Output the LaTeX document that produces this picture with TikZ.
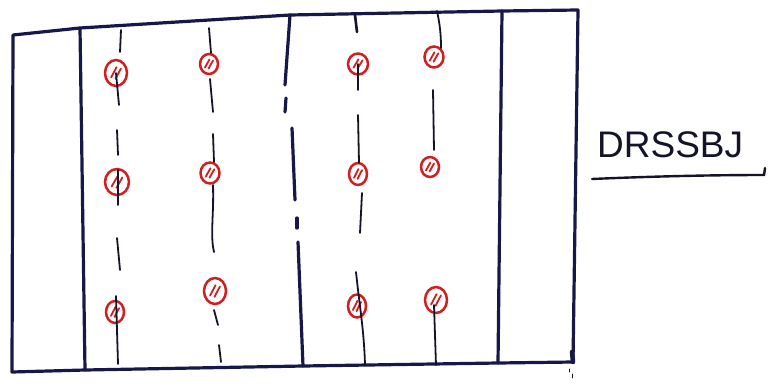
\documentclass[tikz,border=0pt]{standalone}
\usepackage{fontspec}
\setmainfont{Liberation Sans}
\definecolor{ink}{HTML}{17174A}
\definecolor{pen}{HTML}{141428}
\definecolor{redpen}{HTML}{D01F1F}
\begin{document}
\begin{tikzpicture}[x=1pt,y=-1pt,
  frame/.style={draw=ink,line width=3.2pt,line join=round,line cap=round},
  thin/.style={draw=pen,line width=1.8pt,line cap=round},
  holeline/.style={draw=redpen,line width=2.5pt},
  hatch/.style={draw=redpen,line width=1.8pt,line cap=round}]
\useasboundingbox (0,0) rectangle (778,383);
\newcommand{\hole}[5]{%
  \draw[holeline] (#2,#3) ellipse [x radius=#4, y radius=#5];
  \coordinate (#1) at (#2,#3);
  \draw[hatch] ([shift={(-0.45*#4,0.35*#5)}]#1) -- ([shift={(0.05*#4,-0.45*#5)}]#1);
  \draw[hatch] ([shift={(-0.05*#4,0.45*#5)}]#1) -- ([shift={(0.45*#4,-0.35*#5)}]#1);}
% outer frame
\coordinate (tl) at (13,35);
\coordinate (t1) at (80,28);
\coordinate (t2) at (290,15);
\coordinate (t3) at (502,11);
\coordinate (tr) at (578,10);
\coordinate (br) at (573,362);
\coordinate (b3) at (498,363);
\coordinate (b2) at (303,366);
\coordinate (b1) at (85,370);
\coordinate (bl) at (12,372);
\draw[frame] (tl) -- (t1) -- (t2) -- (t3) -- (tr) -- (br) -- (b3) -- (b2) -- (b1) -- (bl) -- cycle;
% inner thick lines
\draw[frame] (t1) -- (b1);
\draw[frame] (t3) -- (b3);
\draw[frame] (t2) -- (285,85);
\draw[frame] (286,98) -- (285,112);
\draw[frame] (292,128) -- (295,200);
\draw[frame] (297,218) -- (297,228);
\draw[frame] (298,242) -- (b2);
% corner blob
\draw[frame,line width=4.5pt] (572,352) -- (br);
\draw[thin,line width=0.8pt] (569,369) -- (569,372);
\draw[thin,line width=0.8pt] (572,374) -- (572,378);
% holes
\hole{h1}{116}{73}{11}{13}
\hole{h2}{209}{64}{9}{10}
\hole{h3}{358}{64}{10}{10.5}
\hole{h4}{434}{57}{9.5}{10.5}
\hole{h5}{117}{182}{12}{13}
\hole{h6}{210}{173}{9.5}{10.5}
\hole{h7}{358}{174}{9}{11}
\hole{h8}{430}{167}{9}{10}
\hole{h9}{115}{312}{9}{11}
\hole{h10}{215}{291}{11}{13}
\hole{h11}{357}{306}{9}{11.5}
\hole{h12}{436}{300}{11}{13}
% column 1
\draw[thin] (121,30) -- (120,52);
\draw[thin] (h1) -- (119,105);
\draw[thin] (117,130) -- (118,155);
\draw[thin] (118,170) -- (118,205);
\draw[thin] (117,238) -- (120,270);
\draw[thin] (116,296) -- (118,364);
% column 2
\draw[thin] (209,28) -- (211,53);
\draw[thin] (210,79) -- (213,112);
\draw[thin] (213,134) -- (214,162);
\draw[thin] (213,185) .. controls (214,215) and (210,235) .. (214,252);
\draw[thin] (214,310) -- (218,325);
\draw[thin] (219,345) -- (221,362);
% column 3
\draw[thin,line width=2.6pt] (355,15) -- (357,32);
\draw[thin] (h3) -- (358,90);
\draw[thin] (358,115) -- (359,163);
\draw[thin] (362,193) -- (360,233);
\draw[thin] (356,272) .. controls (360,310) and (364,330) .. (365,365);
% column 4
\draw[thin] (437,11) .. controls (440,25) and (441,35) .. (441,48);
\draw[thin] (433,90) -- (434,150);
\draw[thin] (434,305) -- (436,365);
% label
\node[text=pen,font=\fontsize{37}{40}\selectfont,anchor=base west,inner sep=0pt] (lbl) at (597,157) {DRSSBJ};
\coordinate (u0) at (592,179);
\coordinate (u1) at (764,175);
\coordinate (u2) at (765,168);
\draw[thin,line width=2.4pt] (u0) .. controls (660,176) and (720,175) .. (u1) -- (u2);
\end{tikzpicture}
\end{document}
